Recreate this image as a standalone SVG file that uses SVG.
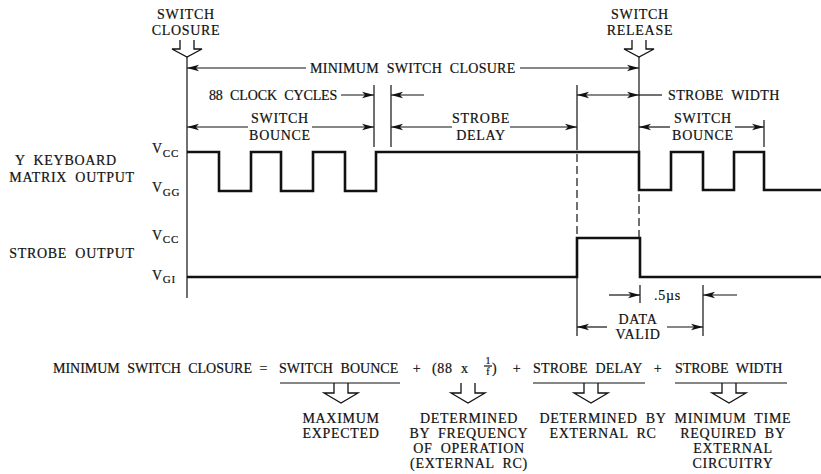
<svg xmlns="http://www.w3.org/2000/svg" width="821" height="474" viewBox="0 0 821 474">
<style>
text{font-family:"Liberation Serif","Times New Roman",serif;font-size:14px;letter-spacing:0.7px;word-spacing:4px;fill:#111;stroke:#111;stroke-width:0.2}
.m{text-anchor:middle}
.sub{font-size:11px;letter-spacing:0.8px}
.frac{font-size:10px;letter-spacing:0}
.ln{fill:none;stroke:#111;stroke-width:1.2}
.dash{fill:none;stroke:#111;stroke-width:1.2;stroke-dasharray:8 4}
.wave{fill:none;stroke:#111;stroke-width:2.6;stroke-linejoin:miter}
.harrow{fill:none;stroke:#111;stroke-width:1.3;stroke-linejoin:miter}
</style>
<defs>
<marker id="ah" viewBox="0 0 12 8" refX="12" refY="4" markerWidth="12" markerHeight="8" markerUnits="userSpaceOnUse" orient="auto-start-reverse">
<path d="M0,0.8 L12,4 L0,7.2 L3,4 z" fill="#111"/>
</marker>
</defs>
<rect width="821" height="474" fill="#fff"/>

<g id="event-labels">
<text class="m" x="186" y="19">SWITCH</text>
<text class="m" x="186" y="35">CLOSURE</text>
<path class="harrow" d="M180,40 V49 H172 L187,57 L202,49 H194 V40"/>
<text class="m" x="640" y="19">SWITCH</text>
<text class="m" x="640" y="35">RELEASE</text>
<path class="harrow" d="M632,40 V49 H624 L639,57 L654,49 H646 V40"/>
</g>

<g id="signal-labels">
<text class="m" x="66" y="165">Y KEYBOARD</text>
<text class="m" x="72" y="182">MATRIX OUTPUT</text>
<text class="m" x="72" y="258">STROBE OUTPUT</text>
<text x="152" y="153">V<tspan class="sub" dy="4">CC</tspan></text>
<text x="152" y="192">V<tspan class="sub" dy="4">GG</tspan></text>
<text x="152" y="240">V<tspan class="sub" dy="3">CC</tspan></text>
<text x="152" y="280">V<tspan class="sub" dy="3">GI</tspan></text>
</g>

<g id="waveforms">
<path class="wave" d="M187,152 H219 V191 H251 V152 H281 V191 H313 V152 H345 V191 H376 V152 H639 V190 H671 V152 H703 V190 H734 V152 H764 V190 H821"/>
<path class="wave" d="M187,277 H577 V238 H640 V277 H821"/>
</g>

<g id="connectors">
<line class="ln" x1="187" y1="57" x2="187" y2="298"/>
<line class="ln" x1="374" y1="85" x2="374" y2="147"/>
<line class="ln" x1="391" y1="85" x2="391" y2="147"/>
<line class="ln" x1="577" y1="85" x2="577" y2="150"/>
<line class="dash" x1="577" y1="154" x2="577" y2="237"/>
<line class="ln" x1="577" y1="277" x2="577" y2="336"/>
<line class="ln" x1="639" y1="57" x2="639" y2="152"/>
<line class="dash" x1="639" y1="194" x2="639" y2="237"/>
<line class="ln" x1="764" y1="120" x2="764" y2="147"/>
<line class="ln" x1="640" y1="285" x2="640" y2="303"/>
<line class="ln" x1="703" y1="285" x2="703" y2="336"/>

<line class="ln" x1="187" y1="68" x2="306" y2="68" marker-start="url(#ah)"/>
<line class="ln" x1="520" y1="68" x2="639" y2="68" marker-end="url(#ah)"/>
<line class="ln" x1="341" y1="95" x2="374" y2="95" marker-end="url(#ah)"/>
<line class="ln" x1="424" y1="95" x2="391" y2="95" marker-end="url(#ah)"/>
<line class="ln" x1="187" y1="127" x2="248" y2="127" marker-start="url(#ah)"/>
<line class="ln" x1="312" y1="127" x2="374" y2="127" marker-end="url(#ah)"/>
<line class="ln" x1="391" y1="127" x2="452" y2="127" marker-start="url(#ah)"/>
<line class="ln" x1="510" y1="127" x2="577" y2="127" marker-end="url(#ah)"/>
<line class="ln" x1="577" y1="95" x2="639" y2="95" marker-start="url(#ah)" marker-end="url(#ah)"/>
<line class="ln" x1="639" y1="95" x2="662" y2="95"/>
<line class="ln" x1="639" y1="127" x2="670" y2="127" marker-start="url(#ah)"/>
<line class="ln" x1="735" y1="127" x2="764" y2="127" marker-end="url(#ah)"/>
<line class="ln" x1="577" y1="327" x2="607" y2="327" marker-start="url(#ah)"/>
<line class="ln" x1="667" y1="327" x2="703" y2="327" marker-end="url(#ah)"/>
<line class="ln" x1="609" y1="295" x2="640" y2="295" marker-end="url(#ah)"/>
<line class="ln" x1="737" y1="295" x2="703" y2="295" marker-end="url(#ah)"/>
</g>

<g id="dimension-labels">
<text x="310" y="73" textLength="206" lengthAdjust="spacing">MINIMUM SWITCH CLOSURE</text>
<text x="209" y="100" textLength="129" lengthAdjust="spacing">88 CLOCK CYCLES</text>
<text x="668" y="100" textLength="112" lengthAdjust="spacing">STROBE WIDTH</text>
<text class="m" x="280" y="123">SWITCH</text>
<text class="m" x="280" y="140">BOUNCE</text>
<text class="m" x="481" y="123">STROBE</text>
<text class="m" x="481" y="140">DELAY</text>
<text class="m" x="703" y="123">SWITCH</text>
<text class="m" x="703" y="140">BOUNCE</text>
<text class="m" x="638" y="324">DATA</text>
<text class="m" x="638" y="339">VALID</text>
<text x="654" y="300">.5µs</text>
</g>

<g id="equation">
<text x="53" y="373" textLength="215" lengthAdjust="spacing">MINIMUM SWITCH CLOSURE =</text>
<text x="279" y="373" textLength="120" lengthAdjust="spacing">SWITCH BOUNCE</text>
<text class="m" x="417" y="373">+</text>
<text x="432" y="373">(88 x</text>
<text class="frac m" x="488" y="364">1</text>
<line class="ln" x1="484" y1="366" x2="492" y2="366" stroke-width="0.8"/>
<text class="frac m" x="488" y="375">f</text>
<text x="492" y="373">)</text>
<text class="m" x="517" y="373">+</text>
<text x="533" y="373" textLength="110" lengthAdjust="spacing">STROBE DELAY</text>
<text class="m" x="658" y="373">+</text>
<text x="675" y="373" textLength="108" lengthAdjust="spacing">STROBE WIDTH</text>
<line class="ln" x1="280" y1="383" x2="400" y2="383"/>
<line class="ln" x1="533" y1="383" x2="645" y2="383"/>
<line class="ln" x1="675" y1="383" x2="787" y2="383"/>
<path class="harrow" d="M334,383 V393 H324 L341,403 L358,393 H348 V383"/>
<path class="harrow" d="M461,383 V393 H451 L468,403 L485,393 H475 V383"/>
<path class="harrow" d="M584,383 V393 H574 L591,403 L608,393 H598 V383"/>
<path class="harrow" d="M722,383 V393 H712 L729,403 L746,393 H736 V383"/>
</g>

<g id="notes">
<text class="m" x="341" y="423">MAXIMUM</text>
<text class="m" x="341" y="438">EXPECTED</text>
<text class="m" x="469" y="423">DETERMINED</text>
<text class="m" x="469" y="438">BY FREQUENCY</text>
<text class="m" x="469" y="453">OF OPERATION</text>
<text class="m" x="469" y="468">(EXTERNAL RC)</text>
<text class="m" x="603" y="423">DETERMINED BY</text>
<text class="m" x="603" y="438">EXTERNAL RC</text>
<text class="m" x="733" y="423">MINIMUM TIME</text>
<text class="m" x="733" y="438">REQUIRED BY</text>
<text class="m" x="733" y="453">EXTERNAL</text>
<text class="m" x="733" y="468">CIRCUITRY</text>
</g>
</svg>
